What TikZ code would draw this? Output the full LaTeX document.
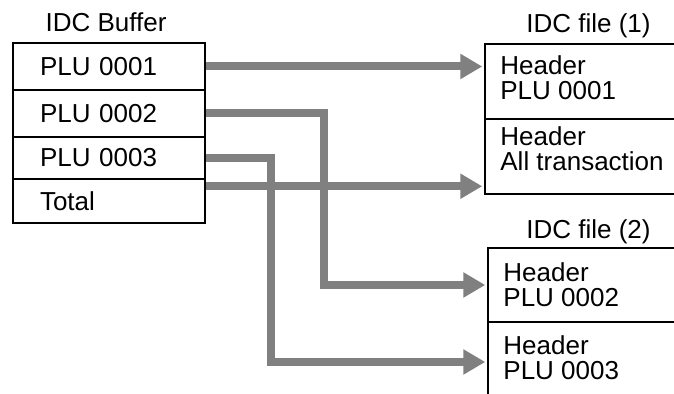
\documentclass[tikz,border=0pt]{standalone}
\usepackage{fontspec}
\setmainfont{Liberation Sans}
\usetikzlibrary{arrows.meta}
\definecolor{Ink}{HTML}{000000}
\definecolor{Flow}{HTML}{808080}
\tikzset{
  cell/.style={rectangle,draw=Ink,line width=0.75pt,font=\fontsize{13}{12.5}\selectfont,text=Ink,minimum width=96pt,text width=69pt,inner xsep=13.5pt,inner ysep=0pt,align=left},
  fx/.style={rectangle,draw=Ink,line width=0.75pt,inner sep=0pt},
  rt/.style={font=\fontsize{13}{12.5}\selectfont,text=Ink,align=left,anchor=north west,inner sep=0pt},
  ttl/.style={font=\fontsize{13}{15}\selectfont,text=Ink,anchor=base,inner sep=0pt},
  flow/.style={draw=Flow,line width=4pt,shorten >=1pt,-{Triangle[length=11pt,width=12pt]}},
}
\begin{document}
\begin{tikzpicture}[x=0.5pt,y=0.5pt]
\useasboundingbox (0,0) rectangle (674,394);
\clip (0,0) rectangle (674,394);
% -buffer-
\node[ttl] (tb) at (106,362) {IDC Buffer};
\node[cell,minimum height=23.5pt] (c1) at (109,327.5) {PLU 0001};
\node[cell,minimum height=23.5pt] (c2) at (109,280.5) {PLU 0002};
\node[cell,minimum height=21pt] (c3) at (109,236) {PLU 0003};
\node[cell,minimum height=22pt] (c4) at (109,193) {Total};
% -file 1- (open to the right)
\node[ttl] (tf1) at (588.5,361) {IDC file (1)};
\node[fx,minimum width=107.5pt,minimum height=37.5pt] (f1a) at (592.5,312.5) {};
\node[fx,minimum width=107.5pt,minimum height=37.5pt] (f1b) at (592.5,237.5) {};
\node[rt] (h1a) at (500,339) {Header\\PLU 0001};
\node[rt] (h1b) at (500,268) {Header\\All transaction};
% -file 2- (runs off the bottom)
\node[ttl] (tf2) at (588.5,155) {IDC file (2)};
\node[fx,minimum width=106pt,minimum height=37pt] (f2a) at (594,109) {};
\node[fx,minimum width=106pt,minimum height=40pt] (f2b) at (594,32) {};
\node[rt] (h2a) at (503,132) {Header\\PLU 0002};
\node[rt] (h2b) at (503,59) {Header\\PLU 0003};
% -flows-
\coordinate (tt) at ([yshift=-4pt]c4.north east);
\coordinate (k2) at (324,0);
\coordinate (k3) at (271,0);
\draw[flow] (c1.east) -- (f1a.west |- c1.east);
\draw[flow] (tt) -- (f1b.west |- tt);
\draw[flow] (c2.east) -| (k2 |- f2a.west) -- (f2a.west);
\draw[flow] (c3.east) -| (k3 |- f2b.west) -- (f2b.west);
\end{tikzpicture}
\end{document}
